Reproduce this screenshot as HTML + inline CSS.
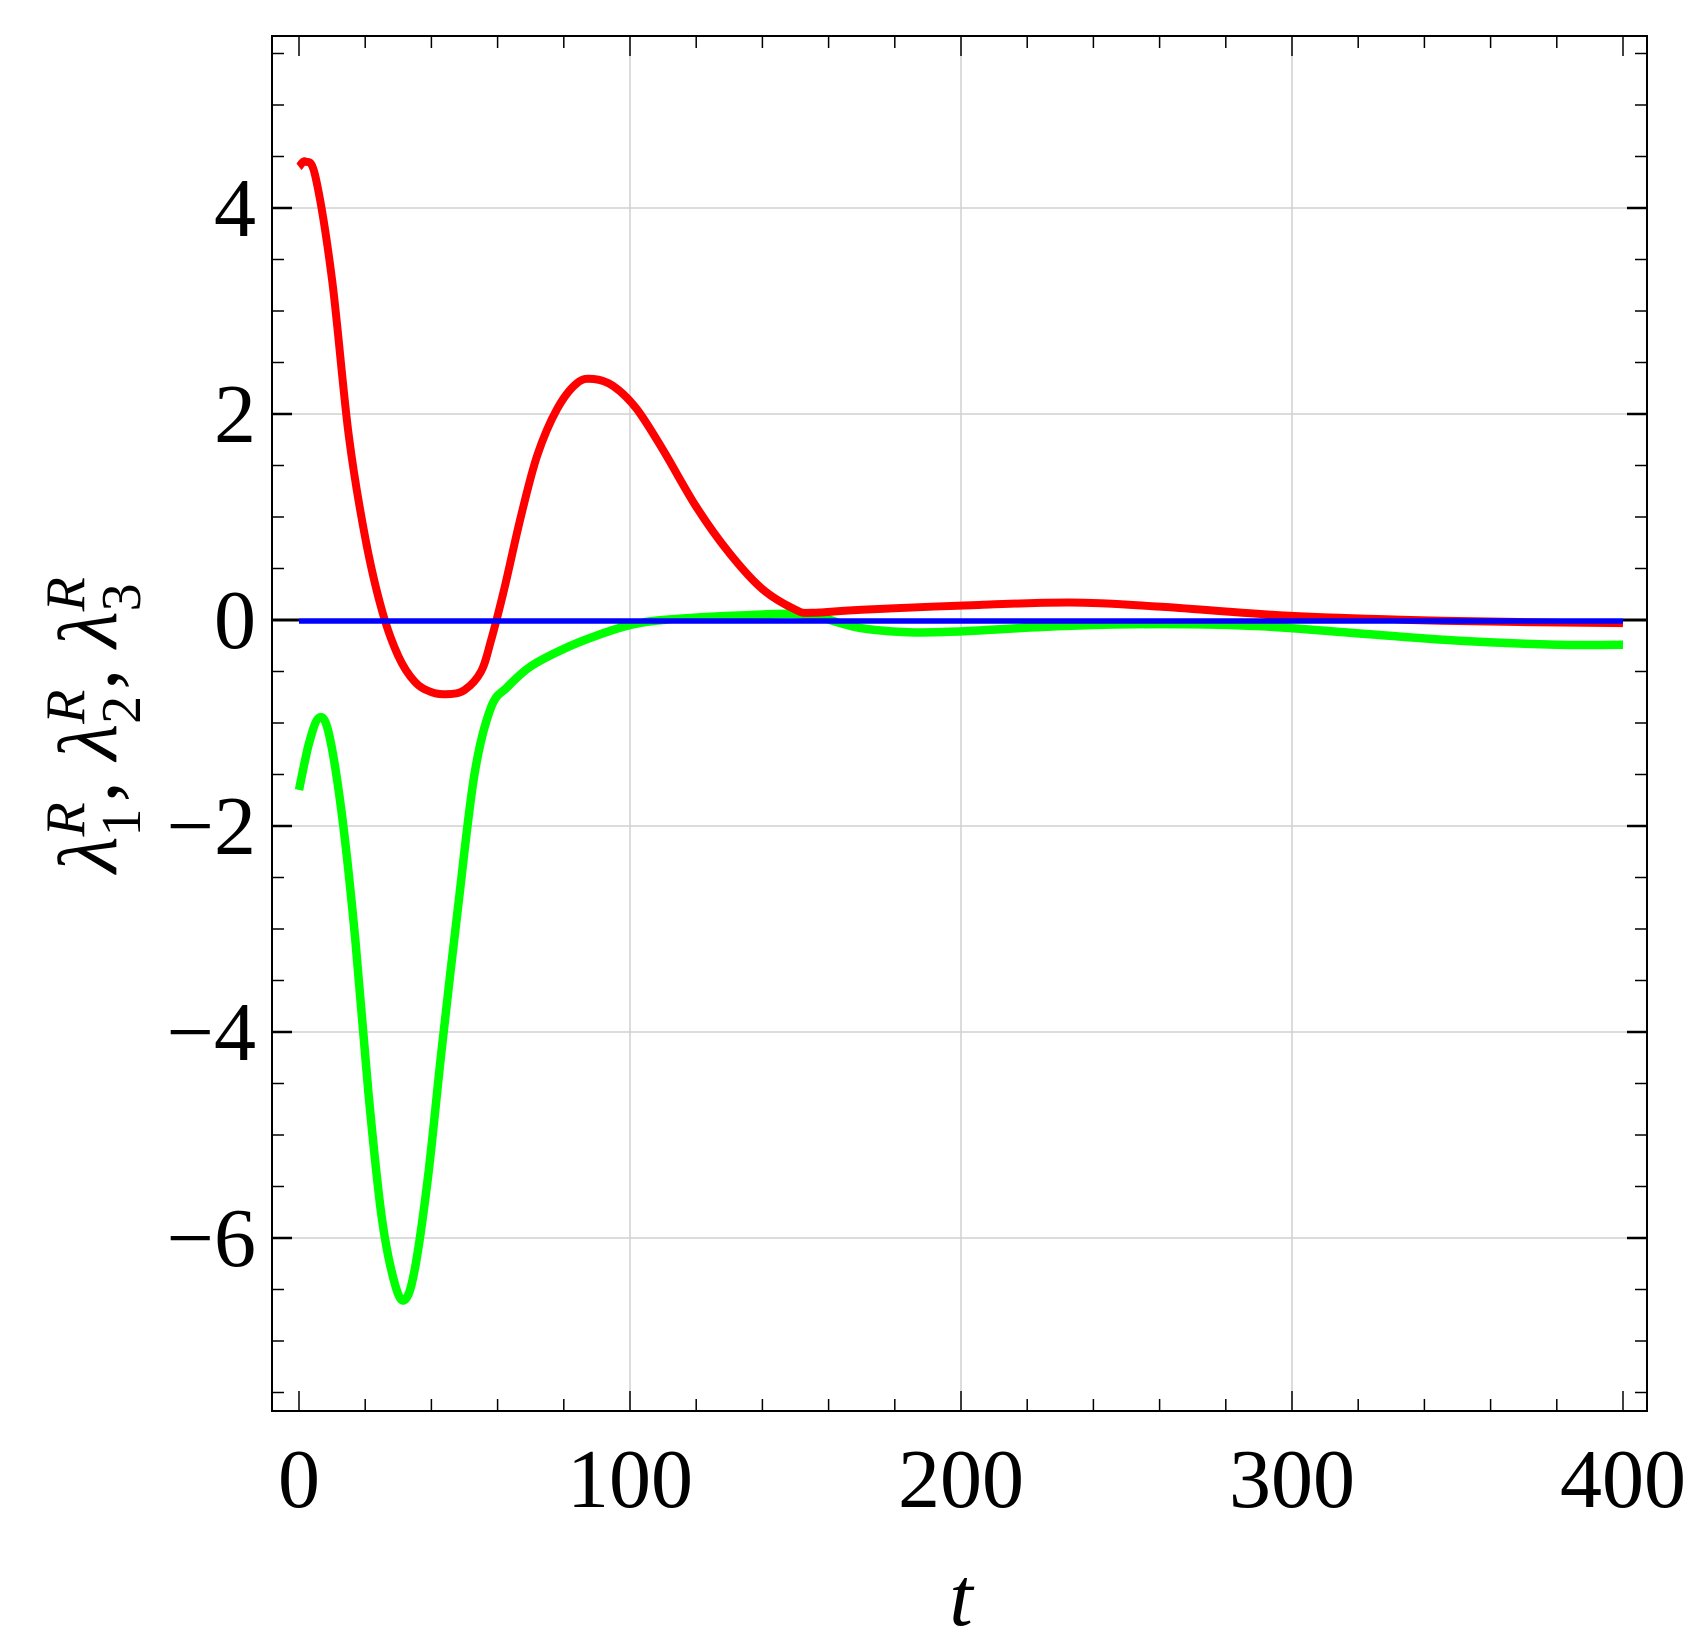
<!DOCTYPE html>
<html><head><meta charset="utf-8"><style>
body{margin:0;background:#fff}
svg{display:block}
text{font-family:"Liberation Serif",serif;fill:#000}
</style></head><body>
<svg id="chart" width="1703" height="1641" viewBox="0 0 1703 1641" xmlns="http://www.w3.org/2000/svg">
<g id="grid"></g>
<g id="series"></g>
<g id="axes"></g>
<text x="961" y="1625" font-size="84" font-style="italic" text-anchor="middle">t</text>
<text transform="translate(116,725) rotate(-90)" font-size="84" text-anchor="middle"><tspan font-style="italic">λ</tspan><tspan font-size="56" dy="24">1</tspan><tspan font-size="56" font-style="italic" dy="-56" dx="-28">R</tspan><tspan dy="32">, </tspan><tspan font-style="italic">λ</tspan><tspan font-size="56" dy="24">2</tspan><tspan font-size="56" font-style="italic" dy="-56" dx="-28">R</tspan><tspan dy="32">, </tspan><tspan font-style="italic">λ</tspan><tspan font-size="56" dy="24">3</tspan><tspan font-size="56" font-style="italic" dy="-56" dx="-28">R</tspan></text>
</svg>
<script>
const xTicks=[0,100,200,300,400];
const yTicks=[-6,-4,-2,0,2,4];
const redT=[0,2,5,10,15,20,25,30,35,40,45,50,55,58,62,67,72,78,84,89,95,102,110,120,130,140,150,155,170,200,233,260,300,350,400];
const redY=[4.4,4.45,4.3,3.3,1.8,0.8,0.1,-0.35,-0.6,-0.7,-0.72,-0.68,-0.5,-0.2,0.3,1.0,1.6,2.05,2.3,2.34,2.27,2.05,1.65,1.1,0.65,0.3,0.1,0.07,0.1,0.14,0.17,0.13,0.04,-0.01,-0.03];
const greenT=[0,3,6,9,13,17,21,25,29,32,35,39,43,48,53,58,63,70,80,90,100,110,130,150,158,170,185,200,230,260,290,320,350,380,400];
const greenY=[-1.65,-1.2,-0.95,-1.1,-1.9,-3.1,-4.6,-5.8,-6.45,-6.6,-6.3,-5.4,-4.2,-2.8,-1.5,-0.85,-0.65,-0.45,-0.28,-0.15,-0.05,0.0,0.04,0.06,0.02,-0.08,-0.12,-0.11,-0.06,-0.04,-0.06,-0.13,-0.2,-0.24,-0.24];
const blueT=[0,400];
const blueY=[-0.01,-0.01];
const NS="http://www.w3.org/2000/svg";
const L=272,R=1647,T=36,B=1411;
const sx=t=>299+t*3.31;
const sy=v=>620-v*103;
function mk(tag,attrs,parent){const e=document.createElementNS(NS,tag);for(const k in attrs)e.setAttribute(k,attrs[k]);parent.appendChild(e);return e;}
const grid=document.getElementById('grid'),axes=document.getElementById('axes'),series=document.getElementById('series');
xTicks.forEach(t=>{if(t>0&&t<400){const g=mk('line',{x1:sx(t),x2:sx(t),y1:T,y2:B,stroke:'#d0d0d0','stroke-width':1.5},grid);

}});
yTicks.forEach(v=>{if(v!==0){const g=mk('line',{x1:L,x2:R,y1:sy(v),y2:sy(v),stroke:'#d0d0d0','stroke-width':1.5},grid);

}});
function smooth(ts,vs){const p=ts.map((t,i)=>[sx(t),sy(vs[i])]);let d='M'+p[0][0]+','+p[0][1];
for(let i=0;i<p.length-1;i++){const p0=p[i-1]||p[i],p1=p[i],p2=p[i+1],p3=p[i+2]||p2;
d+=' C'+(p1[0]+(p2[0]-p0[0])/6)+','+(p1[1]+(p2[1]-p0[1])/6)+' '+(p2[0]-(p3[0]-p1[0])/6)+','+(p2[1]-(p3[1]-p1[1])/6)+' '+p2[0]+','+p2[1];}return d;}
const z=mk('line',{x1:L,x2:R,y1:sy(0),y2:sy(0),stroke:'#000','stroke-width':3},series);


const gp=mk('path',{d:smooth(greenT,greenY),fill:'none',stroke:'#00ff00','stroke-width':8.5},series);


const rp=mk('path',{d:smooth(redT,redY),fill:'none',stroke:'#ff0000','stroke-width':8},series);


const bp=mk('path',{d:smooth(blueT,blueY),fill:'none',stroke:'#0000ff','stroke-width':5.5},series);


const fr=mk('rect',{x:L,y:T,width:R-L,height:B-T,fill:'none',stroke:'#000','stroke-width':2},axes);


for(let t=0;t<=400;t+=20){const maj=t%100===0,len=maj?20:12;
mk('line',{x1:sx(t),x2:sx(t),y1:B,y2:B-len,stroke:'#000','stroke-width':1.5},axes);
mk('line',{x1:sx(t),x2:sx(t),y1:T,y2:T+len,stroke:'#000','stroke-width':1.5},axes);}
for(let v=-7.5;v<=5.5;v+=0.5){const maj=v%2===0,len=maj?20:12;
mk('line',{x1:L,x2:L+len,y1:sy(v),y2:sy(v),stroke:'#000','stroke-width':maj?2.5:1.5},axes);
mk('line',{x1:R,x2:R-len,y1:sy(v),y2:sy(v),stroke:'#000','stroke-width':maj?2.5:1.5},axes);}
xTicks.forEach(t=>{const e=mk('text',{x:sx(t),y:1507,'font-size':84,'text-anchor':'middle'},axes);e.textContent=t;

});
yTicks.forEach(v=>{const e=mk('text',{x:256,y:sy(v)+28,'font-size':84,'text-anchor':'end'},axes);e.textContent=v<0?'\u2212'+(-v):v;

});
</script>
</body></html>
